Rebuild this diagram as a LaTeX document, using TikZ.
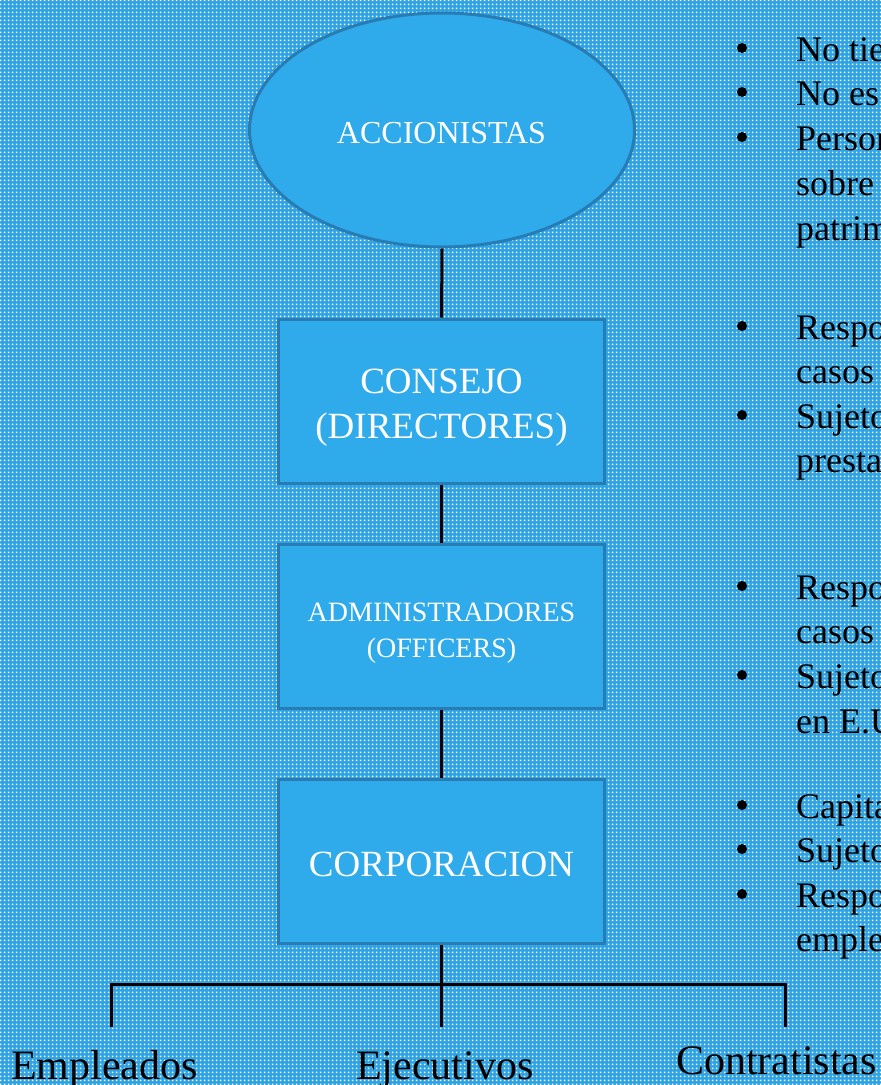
\documentclass[tikz,border=0pt]{standalone}
\usepackage{fontspec}
\setmainfont{Liberation Serif}
\usetikzlibrary{shapes.geometric,patterns}
\pgfdeclarepatternformonly{wdots}{\pgfpointorigin}{\pgfqpoint{4pt}{4pt}}{\pgfqpoint{4pt}{4pt}}{%
  \pgfpathrectangle{\pgfqpoint{1pt}{1pt}}{\pgfqpoint{2pt}{2pt}}\pgfusepath{fill}}
\definecolor{bgblue}{RGB}{46,163,228}
\definecolor{boxblue}{RGB}{47,171,235}
\definecolor{edgeblue}{RGB}{40,124,180}
\tikzset{
  shapebox/.style={draw=edgeblue, line width=3pt, fill=boxblue, inner sep=0pt},
  rectbox/.style={shapebox, rectangle, minimum width=326pt, minimum height=164pt},
  conn/.style={draw=black, line width=3pt},
  boxtxt/.style={text=white, inner sep=0pt, anchor=base},
  sidetxt/.style={text=black, inner sep=0pt, anchor=base west, font=\fontsize{36}{44}\selectfont},
  bulletdot/.style={circle, fill=black, minimum size=10pt, inner sep=0pt},
  bottomtxt/.style={text=black, inner sep=0pt, anchor=base west, font=\fontsize{42}{50}\selectfont}
}
\begin{document}
\begin{tikzpicture}[x=1pt,y=-1pt]
\useasboundingbox (0,0) rectangle (881,1085);
\fill[bgblue] (0,0) rectangle (881,1085);
\fill[pattern=wdots, pattern color=white] (0,0) rectangle (881,1085);
\clip (0,0) rectangle (881,1085);

% main shapes
\node[shapebox, ellipse, minimum width=385pt, minimum height=234pt] (acc) at (442,130) {};
\node[rectbox] (consejo) at (441.5,401) {};
\node[rectbox] (admin) at (441.5,626.5) {};
\node[rectbox] (corp) at (441.5,861.5) {};

% texts in shapes
\node[boxtxt, font=\fontsize{32}{38}\selectfont] (accT) at (441.5,143) {ACCIONISTAS};
\node[boxtxt, font=\fontsize{37}{45}\selectfont] (consejoT1) at (441.5,393) {CONSEJO};
\node[boxtxt, font=\fontsize{37}{45}\selectfont] (consejoT2) at (441.5,438) {(DIRECTORES)};
\node[boxtxt, font=\fontsize{28}{36}\selectfont] (adminT1) at (441.5,621) {ADMINISTRADORES};
\node[boxtxt, font=\fontsize{28}{36}\selectfont] (adminT2) at (441.5,657) {(OFFICERS)};
\node[boxtxt, font=\fontsize{37}{45}\selectfont] (corpT) at (441.5,876) {CORPORACION};

% connectors
\coordinate (hl) at (111,984);
\coordinate (hr) at (785,984);
\coordinate (lEnd) at (111,1027);
\coordinate (mEnd) at (441.5,1027);
\coordinate (rEnd) at (785,1027);
\draw[conn] (acc.south) -- (consejo.north);
\draw[conn] (consejo.south) -- (admin.north);
\draw[conn] (admin.south) -- (corp.north);
\draw[conn] (corp.south) -- (mEnd);
\draw[conn] (lEnd) -- (hl) -- (hr) -- (rEnd);

% bottom labels
\node[bottomtxt] (emp) at (11,1079) {Empleados};
\node[bottomtxt] (eje) at (356,1079) {Ejecutivos};
\node[bottomtxt] (con) at (676,1074) {Contratistas};

% right column
\node[bulletdot] (b1) at (742,48) {};
\node[sidetxt] (t1) at (796,61) {No tie};
\node[bulletdot] (b2) at (742,92) {};
\node[sidetxt] (t2) at (796,105) {No es};
\node[bulletdot] (b3) at (742,137) {};
\node[sidetxt] (t3) at (796,150) {Person};
\node[sidetxt] (t4) at (796,195) {sobre};
\node[sidetxt] (t5) at (796,240) {patrim};

\node[bulletdot] (b4) at (742,326) {};
\node[sidetxt] (t6) at (796,339) {Respo};
\node[sidetxt] (t7) at (796,383) {casos};
\node[bulletdot] (b5) at (742,415) {};
\node[sidetxt] (t8) at (796,428) {Sujeto};
\node[sidetxt] (t9) at (796,472) {presta};

\node[bulletdot] (b6) at (742,586) {};
\node[sidetxt] (t10) at (796,599) {Respo};
\node[sidetxt] (t11) at (796,643) {casos};
\node[bulletdot] (b7) at (742,675) {};
\node[sidetxt] (t12) at (796,688) {Sujeto};
\node[sidetxt] (t13) at (796,733) {en E.U};

\node[bulletdot] (b8) at (742,805) {};
\node[sidetxt] (t14) at (796,818) {Capita};
\node[bulletdot] (b9) at (742,849) {};
\node[sidetxt] (t15) at (796,862) {Sujeto};
\node[bulletdot] (b10) at (742,894) {};
\node[sidetxt] (t16) at (796,907) {Respo};
\node[sidetxt] (t17) at (796,951) {emple};
\end{tikzpicture}
\end{document}
